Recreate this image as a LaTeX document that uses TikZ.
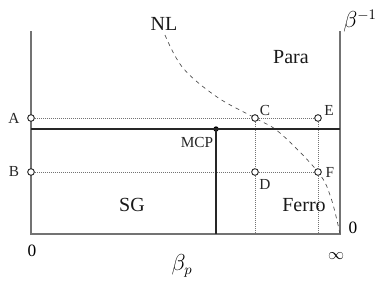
\documentclass[tikz,border=0pt]{standalone}
\usepackage{fontspec}
\setmainfont{Liberation Serif}
\usetikzlibrary{positioning}

\begin{document}
\begin{tikzpicture}[
  x=0.75pt, y=-0.75pt,
  %% eixos
  axis/.style={draw=black!55, line width=1.1pt},
  %% linhas de transição
  trans/.style={draw=black!85, line width=2pt},
  %% linhas pontilhadas
  guide/.style={draw=black!55, densely dotted, line width=0.5pt},
  %% pontos abertos
  pt/.style={circle, draw=black!85, fill=white, line width=0.7pt,
    inner sep=0pt, minimum size=5pt},
  %% rótulos
  small/.style={font=\fontsize{11.5}{13}\selectfont, text=black!85, inner sep=1pt},
  phase/.style={font=\fontsize{15}{17}\selectfont, text=black!90, inner sep=0pt}
]
\useasboundingbox (0,0) rectangle (382,282);

%% ================================================================
%% EIXOS
%% ================================================================
\coordinate (lt) at (31,31);
\coordinate (lb) at (31,234);
\coordinate (rt) at (340,31);
\coordinate (rb) at (340,234);

\draw[axis] (lt) -- (lb) -- (rb) -- (rt);

%% ================================================================
%% LINHA NL
%% ================================================================
\draw[black!70, dashed, line width=0.5pt] plot[smooth, tension=0.6] coordinates {
  (165,35) (183,68) (217,97) (255,118) (280,133) (318,172) (331,198) (340,234)};

%% ================================================================
%% PONTOS
%% ================================================================
\node[pt] (A) at (31,118) {};
\node[pt] (B) at (31,172) {};
\node[pt] (C) at (255,118) {};
\node[pt] (D) at (255,172) {};
\node[pt] (E) at (318,118) {};
\node[pt] (F) at (318,172) {};
\coordinate (Cb) at (255,234);
\coordinate (Eb) at (318,234);

\draw[guide] (A) -- (C) -- (E);
\draw[guide] (B) -- (D) -- (F);
\draw[guide] (C) -- (D) -- (Cb);
\draw[guide] (E) -- (F) -- (Eb);

%% ================================================================
%% TRANSIÇÕES
%% ================================================================
\coordinate (tl) at (31,129);
\coordinate (tr) at (340,129);
\coordinate (mb) at (216,234);
\node[circle, fill=black, inner sep=0pt, minimum size=4pt] (mcp) at (216,129) {};

\draw[trans] (tl) -- (tr);
\draw[trans] (mcp.center) -- (mb);

%% ================================================================
%% RÓTULOS
%% ================================================================
\node[small] (lA) at (14,118) {A};
\node[small] (lB) at (14,172) {B};
\node[small] (lC) at (265,110) {C};
\node[small] (lE) at (329,110) {E};
\node[small] (lD) at (265,184) {D};
\node[small] (lF) at (330,172) {F};
\node[small] (lmcp) at (197,142) {MCP};

\node[phase] (nl) at (164,24) {NL};
\node[phase] (para) at (291,57) {Para};
\node[phase] (sg) at (132,205) {SG};
\node[phase] (ferro) at (304,205) {Ferro};

\node[font=\fontsize{13}{15}\selectfont] (zl) at (32,251) {0};
\node[font=\fontsize{13}{15}\selectfont] (zr) at (353,228) {0};
\node[font=\fontsize{13}{15}\selectfont] (inf) at (336,256) {$\infty$};
\node[font=\fontsize{16}{18}\selectfont] (bp) at (182,266) {$\beta_p$};
\node[font=\fontsize{16}{18}\selectfont] (binv) at (360,21) {$\beta^{-1}$};

\end{tikzpicture}
\end{document}
